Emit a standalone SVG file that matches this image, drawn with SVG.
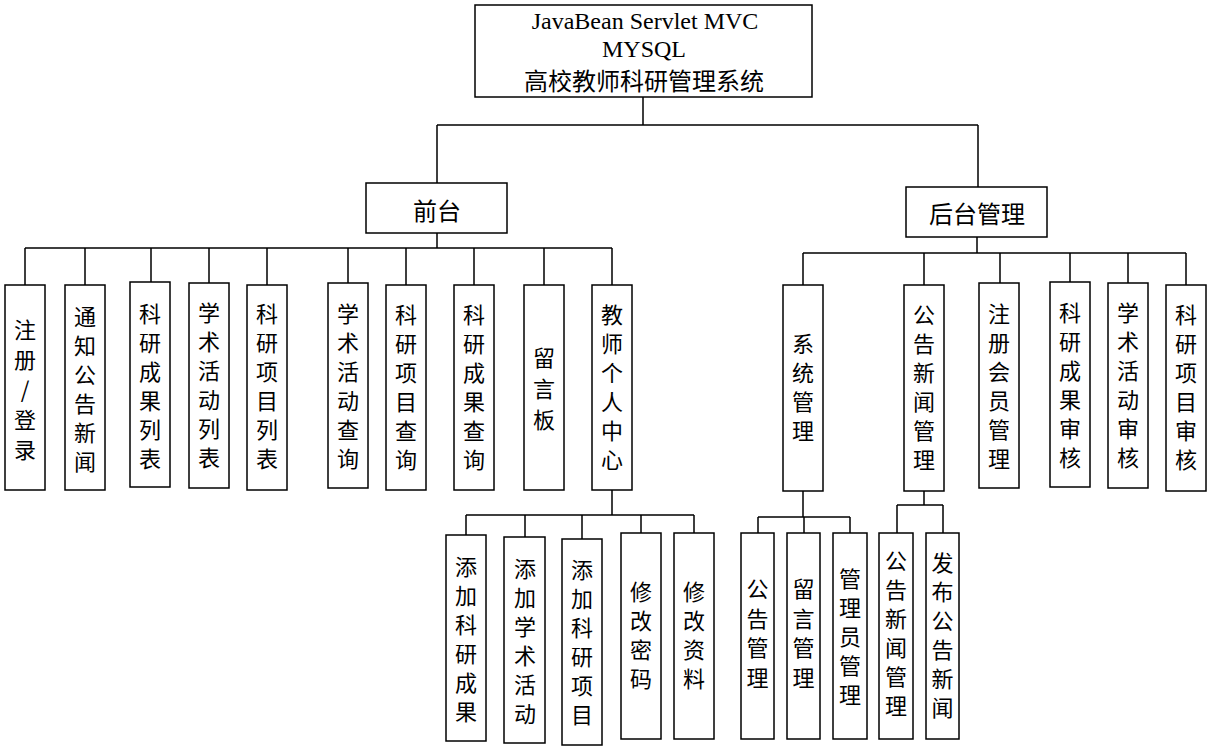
<svg xmlns="http://www.w3.org/2000/svg" width="1211" height="746" viewBox="0 0 1211 746">
<style>
rect{fill:#fff;stroke:#000;stroke-width:1.5}
.c path{fill:none;stroke:#000;stroke-width:1.5}
text{font-family:"Noto Sans CJK SC","Liberation Serif",sans-serif;font-size:22px;fill:#000;text-anchor:middle;dominant-baseline:central}
.lat{font-family:"Liberation Serif","Noto Sans CJK SC",serif;font-size:24px}
.big{font-size:24px}
</style>
<rect x="0" y="0" width="1211" height="746" style="stroke:none"/>
<g class="c" id="connectors">
<path d="M643 97V125M437 125H978M437 125V183M978 125V187"/>
<path d="M437 233V248M25 248H612M25 248V285M85 248V285M151 248V282M209 248V283M267 248V285M348 248V283M406 248V285M474 248V285M544 248V285M612 248V285"/>
<path d="M612 490V515M466 515H694M466 515V535M525 515V537M582 515V539M641 515V533M694 515V533"/>
<path d="M977 237V253M803 253H1186M803 253V285M924 253V285M1000 253V283M1070 253V282M1128 253V283M1186 253V285"/>
<path d="M803 491V517M758 517H850M758 517V533M804 517V533M850 517V533"/>
<path d="M924 491V505M897 505H943M897 505V533M943 505V533"/>
</g>
<g id="root"><rect x="475" y="5" width="337" height="92"/>
<text class="lat" x="645" y="21">JavaBean Servlet MVC</text>
<text class="lat" x="644" y="49">MYSQL</text>
<text class="big" x="644" y="79">高校教师科研管理系统</text></g>
<g id="front"><rect x="366" y="183" width="141" height="50"/><text class="big" x="437" y="209">前台</text></g>
<g id="back"><rect x="906" y="187" width="141" height="50"/><text class="big" x="977" y="212">后台管理</text></g>

<g id="f1"><rect x="5" y="285" width="40" height="205"/><text><tspan x="25" y="328">注</tspan><tspan x="25" y="358">册</tspan><tspan x="25" y="388">/</tspan><tspan x="25" y="418">登</tspan><tspan x="25" y="448">录</tspan></text></g>
<g id="f2"><rect x="65" y="285" width="40" height="205"/><text><tspan x="85" y="315">通</tspan><tspan x="85" y="344">知</tspan><tspan x="85" y="373">公</tspan><tspan x="85" y="402">告</tspan><tspan x="85" y="431">新</tspan><tspan x="85" y="460">闻</tspan></text></g>
<g id="f3"><rect x="130" y="282" width="40" height="205"/><text><tspan x="150" y="312">科</tspan><tspan x="150" y="341">研</tspan><tspan x="150" y="370">成</tspan><tspan x="150" y="399">果</tspan><tspan x="150" y="428">列</tspan><tspan x="150" y="457">表</tspan></text></g>
<g id="f4"><rect x="189" y="283" width="40" height="205"/><text><tspan x="209" y="311">学</tspan><tspan x="209" y="340">术</tspan><tspan x="209" y="369">活</tspan><tspan x="209" y="398">动</tspan><tspan x="209" y="427">列</tspan><tspan x="209" y="456">表</tspan></text></g>
<g id="f5"><rect x="247" y="285" width="40" height="205"/><text><tspan x="267" y="312">科</tspan><tspan x="267" y="341">研</tspan><tspan x="267" y="370">项</tspan><tspan x="267" y="399">目</tspan><tspan x="267" y="428">列</tspan><tspan x="267" y="457">表</tspan></text></g>
<g id="f6"><rect x="328" y="283" width="40" height="205"/><text><tspan x="348" y="312">学</tspan><tspan x="348" y="341">术</tspan><tspan x="348" y="370">活</tspan><tspan x="348" y="399">动</tspan><tspan x="348" y="428">查</tspan><tspan x="348" y="457">询</tspan></text></g>
<g id="f7"><rect x="386" y="285" width="40" height="205"/><text><tspan x="406" y="313">科</tspan><tspan x="406" y="342">研</tspan><tspan x="406" y="371">项</tspan><tspan x="406" y="400">目</tspan><tspan x="406" y="429">查</tspan><tspan x="406" y="458">询</tspan></text></g>
<g id="f8"><rect x="454" y="285" width="40" height="205"/><text><tspan x="474" y="313">科</tspan><tspan x="474" y="342">研</tspan><tspan x="474" y="371">成</tspan><tspan x="474" y="400">果</tspan><tspan x="474" y="429">查</tspan><tspan x="474" y="458">询</tspan></text></g>
<g id="f9"><rect x="524" y="285" width="40" height="205"/><text><tspan x="544" y="356">留</tspan><tspan x="544" y="387">言</tspan><tspan x="544" y="418">板</tspan></text></g>
<g id="f10"><rect x="592" y="285" width="40" height="205"/><text><tspan x="612" y="313">教</tspan><tspan x="612" y="342">师</tspan><tspan x="612" y="371">个</tspan><tspan x="612" y="400">人</tspan><tspan x="612" y="429">中</tspan><tspan x="612" y="458">心</tspan></text></g>

<g id="t1"><rect x="446" y="535" width="40" height="206"/><text><tspan x="466" y="565">添</tspan><tspan x="466" y="594">加</tspan><tspan x="466" y="623">科</tspan><tspan x="466" y="652">研</tspan><tspan x="466" y="681">成</tspan><tspan x="466" y="710">果</tspan></text></g>
<g id="t2"><rect x="504" y="537" width="41" height="206"/><text><tspan x="525" y="567">添</tspan><tspan x="525" y="596">加</tspan><tspan x="525" y="625">学</tspan><tspan x="525" y="654">术</tspan><tspan x="525" y="683">活</tspan><tspan x="525" y="712">动</tspan></text></g>
<g id="t3"><rect x="562" y="539" width="40" height="206"/><text><tspan x="582" y="568">添</tspan><tspan x="582" y="597">加</tspan><tspan x="582" y="626">科</tspan><tspan x="582" y="655">研</tspan><tspan x="582" y="684">项</tspan><tspan x="582" y="713">目</tspan></text></g>
<g id="t4"><rect x="621" y="533" width="40" height="206"/><text><tspan x="641" y="590">修</tspan><tspan x="641" y="619">改</tspan><tspan x="641" y="648">密</tspan><tspan x="641" y="677">码</tspan></text></g>
<g id="t5"><rect x="674" y="533" width="40" height="206"/><text><tspan x="694" y="590">修</tspan><tspan x="694" y="619">改</tspan><tspan x="694" y="648">资</tspan><tspan x="694" y="677">料</tspan></text></g>

<g id="b1"><rect x="783" y="285" width="40" height="206"/><text><tspan x="803" y="342">系</tspan><tspan x="803" y="371">统</tspan><tspan x="803" y="400">管</tspan><tspan x="803" y="429">理</tspan></text></g>
<g id="b2"><rect x="904" y="285" width="40" height="206"/><text><tspan x="924" y="313">公</tspan><tspan x="924" y="342">告</tspan><tspan x="924" y="371">新</tspan><tspan x="924" y="400">闻</tspan><tspan x="924" y="429">管</tspan><tspan x="924" y="458">理</tspan></text></g>
<g id="b3"><rect x="979" y="283" width="40" height="205"/><text><tspan x="999" y="312">注</tspan><tspan x="999" y="341">册</tspan><tspan x="999" y="370">会</tspan><tspan x="999" y="399">员</tspan><tspan x="999" y="428">管</tspan><tspan x="999" y="457">理</tspan></text></g>
<g id="b4"><rect x="1050" y="282" width="40" height="205"/><text><tspan x="1070" y="311">科</tspan><tspan x="1070" y="340">研</tspan><tspan x="1070" y="369">成</tspan><tspan x="1070" y="398">果</tspan><tspan x="1070" y="427">审</tspan><tspan x="1070" y="456">核</tspan></text></g>
<g id="b5"><rect x="1108" y="283" width="40" height="205"/><text><tspan x="1128" y="311">学</tspan><tspan x="1128" y="340">术</tspan><tspan x="1128" y="369">活</tspan><tspan x="1128" y="398">动</tspan><tspan x="1128" y="427">审</tspan><tspan x="1128" y="456">核</tspan></text></g>
<g id="b6"><rect x="1166" y="285" width="40" height="206"/><text><tspan x="1186" y="313">科</tspan><tspan x="1186" y="342">研</tspan><tspan x="1186" y="371">项</tspan><tspan x="1186" y="400">目</tspan><tspan x="1186" y="429">审</tspan><tspan x="1186" y="458">核</tspan></text></g>

<g id="s1"><rect x="741" y="533" width="33" height="206"/><text><tspan x="757.5" y="587">公</tspan><tspan x="757.5" y="617">告</tspan><tspan x="757.5" y="646">管</tspan><tspan x="757.5" y="676">理</tspan></text></g>
<g id="s2"><rect x="787" y="533" width="33" height="206"/><text><tspan x="803.5" y="587">留</tspan><tspan x="803.5" y="617">言</tspan><tspan x="803.5" y="646">管</tspan><tspan x="803.5" y="676">理</tspan></text></g>
<g id="s3"><rect x="833" y="533" width="34" height="206"/><text><tspan x="850" y="577">管</tspan><tspan x="850" y="606">理</tspan><tspan x="850" y="635">员</tspan><tspan x="850" y="664">管</tspan><tspan x="850" y="693">理</tspan></text></g>
<g id="s4"><rect x="879" y="533" width="34" height="206"/><text><tspan x="896" y="559">公</tspan><tspan x="896" y="588">告</tspan><tspan x="896" y="617">新</tspan><tspan x="896" y="646">闻</tspan><tspan x="896" y="675">管</tspan><tspan x="896" y="704">理</tspan></text></g>
<g id="s5"><rect x="926" y="533" width="33" height="206"/><text><tspan x="942.5" y="561">发</tspan><tspan x="942.5" y="590">布</tspan><tspan x="942.5" y="619">公</tspan><tspan x="942.5" y="648">告</tspan><tspan x="942.5" y="677">新</tspan><tspan x="942.5" y="706">闻</tspan></text></g>
</svg>
